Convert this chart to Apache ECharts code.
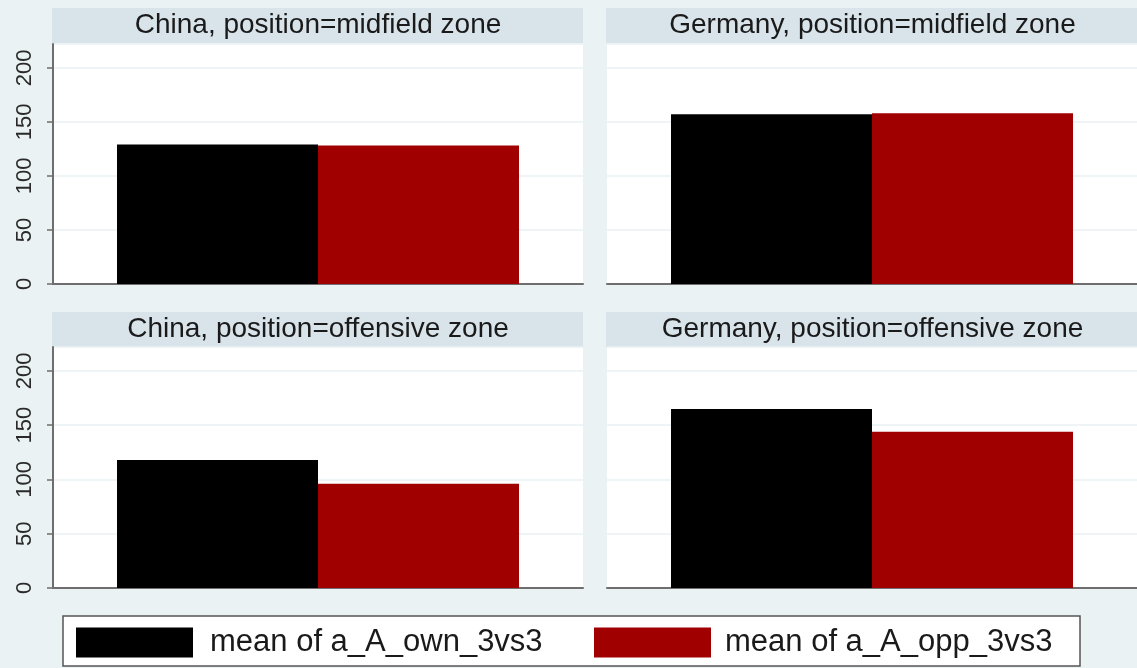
<!DOCTYPE html>
<html><head><meta charset="utf-8">
<script src="https://cdn.jsdelivr.net/npm/echarts@6/dist/echarts.min.js"></script>
<style>html,body{margin:0;padding:0;background:#eaf2f3}#c{width:1137px;height:668px}</style>
</head><body><div id="c"></div>
<script>
const panelTitles = ["China, position=midfield zone", "Germany, position=midfield zone", "China, position=offensive zone", "Germany, position=offensive zone"];
const seriesNames = ["mean of a_A_own_3vs3", "mean of a_A_opp_3vs3"];
const ownValues = [129, 157, 118, 165];
const oppValues = [128, 158, 96, 144];
const yMin = 0, yMax = 222, yStep = 50;

const FONT = '"Liberation Sans", Arial, sans-serif';
const colors = ['#000000', '#a00000'];
const panels = [
  {left: 53, top: 44, width: 530, height: 240, stripTop: 8, showY: true},
  {left: 607, top: 44, width: 531, height: 240, stripTop: 8, showY: false},
  {left: 53, top: 347, width: 530, height: 241, stripTop: 312, showY: true},
  {left: 607, top: 347, width: 531, height: 241, stripTop: 312, showY: false}
];
const stripH = 35;
const grids = [], xAxes = [], yAxes = [], series = [], graphics = [];
panels.forEach((p, i) => {
  grids.push({left: p.left, top: p.top, width: p.width, height: p.height, show: true, backgroundColor: '#ffffff', borderWidth: 0});
  xAxes.push({gridIndex: i, type: 'category', data: [''], axisTick: {show: false}, axisLabel: {show: false},
    axisLine: {lineStyle: {color: '#6e6e6e', width: 2}}});
  yAxes.push({gridIndex: i, type: 'value', min: yMin, max: yMax, interval: yStep,
    axisLine: {show: p.showY, lineStyle: {color: '#6e6e6e', width: 2}},
    axisTick: {show: p.showY, length: 6, lineStyle: {color: '#6e6e6e', width: 1.5}},
    axisLabel: {show: p.showY, rotate: 90, margin: 17, fontFamily: FONT, fontSize: 22, color: '#2a2a2a',
      showMaxLabel: false, formatter: v => (v % yStep === 0 ? String(v) : '')},
    splitLine: {show: true, lineStyle: {color: '#eaf2f3', width: 1.5}}});
  [ownValues, oppValues].forEach((vals, k) => {
    series.push({type: 'bar', name: seriesNames[k], xAxisIndex: i, yAxisIndex: i, data: [vals[i]],
      barWidth: 201, barGap: '0%', itemStyle: {color: colors[k]}, silent: true, animation: false});
  });
  graphics.push({type: 'rect', shape: {x: p.left - 1, y: p.stripTop, width: (i % 2 ? 1137 - p.left + 2 : p.width + 1), height: stripH},
    style: {fill: '#d8e3ea'}, silent: true});
  graphics.push({type: 'text', x: p.left + p.width / 2, y: p.stripTop + stripH / 2,
    style: {text: panelTitles[i], font: '28px ' + FONT, fill: '#1a1a1a', textAlign: 'center', textVerticalAlign: 'middle'}, silent: true});
});
graphics.push({type: 'rect', shape: {x: 63, y: 616, width: 1017, height: 50}, style: {fill: '#ffffff', stroke: '#555555', lineWidth: 1.5}, silent: true, z: -1});

const legendBase = {top: 627, padding: 0, itemWidth: 117, itemHeight: 30, icon: 'rect', orient: 'horizontal', selectedMode: false};
const chart = echarts.init(document.getElementById('c'), null, {renderer: 'canvas'});
chart.setOption({
  backgroundColor: '#eaf2f3',
  animation: false,
  grid: grids, xAxis: xAxes, yAxis: yAxes, series: series,
  legend: [
    Object.assign({}, legendBase, {left: 76, data: [seriesNames[0]],
      textStyle: {fontFamily: FONT, fontSize: 31, lineHeight: 30, color: '#1a1a1a', padding: [0, 0, 0, 12]}}),
    Object.assign({}, legendBase, {left: 594, data: [seriesNames[1]],
      textStyle: {fontFamily: FONT, fontSize: 31, lineHeight: 30, color: '#1a1a1a', padding: [0, 0, 0, 9]}})
  ],
  graphic: graphics
});
</script></body></html>
